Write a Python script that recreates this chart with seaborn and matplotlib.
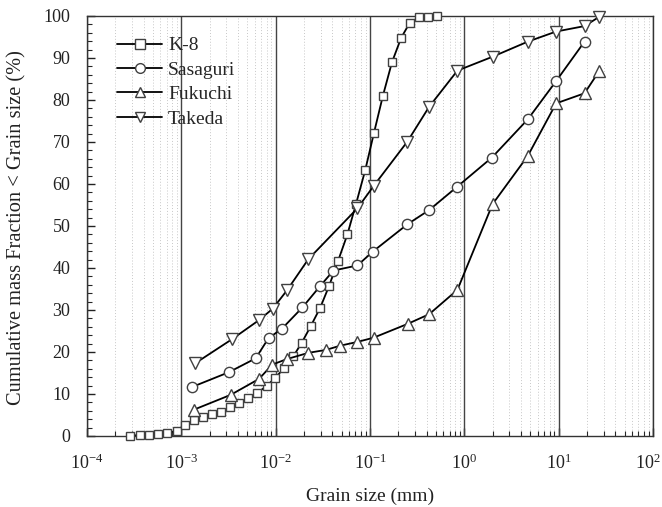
import numpy as np
import pandas as pd
import matplotlib
matplotlib.use("Agg")
import matplotlib.pyplot as plt
import matplotlib.ticker as mticker
import matplotlib.transforms as mtrans
import seaborn as sns

k8_x = [2.86e-4, 3.65e-4, 4.58e-4, 5.7e-4, 7.1e-4, 8.9e-4, 1.09e-3, 1.37e-3, 1.71e-3, 2.1e-3,
        2.64e-3, 3.28e-3, 4.09e-3, 5.14e-3, 6.4e-3, 8.05e-3, 9.9e-3, 1.23e-2, 1.54e-2, 1.89e-2,
        2.36e-2, 2.96e-2, 3.68e-2, 4.59e-2, 5.76e-2, 7.1e-2, 8.9e-2, 0.110, 0.137, 0.171,
        0.214, 0.264, 0.332, 0.416, 0.519]
k8_y = [0.1, 0.2, 0.2, 0.4, 0.6, 1.3, 2.6, 3.8, 4.6, 5.2,
        5.8, 6.8, 7.9, 9.1, 10.3, 11.9, 13.9, 16.1, 19.0, 22.2,
        26.2, 30.5, 35.7, 41.7, 48.0, 55.2, 63.3, 72.1, 81.0, 89.0,
        94.8, 98.4, 99.7, 99.8, 99.9]

sas_x = [1.31e-3, 3.2e-3, 6.15e-3, 8.4e-3, 1.16e-2, 1.92e-2, 2.96e-2, 4.1e-2, 7.35e-2, 0.107,
         0.249, 0.424, 0.845, 1.96, 4.71, 9.4, 18.8]
sas_y = [11.7, 15.2, 18.5, 23.3, 25.5, 30.6, 35.7, 39.4, 40.6, 43.9,
         50.4, 53.8, 59.4, 66.3, 75.4, 84.5, 93.9]

fuk_x = [1.37e-3, 3.34e-3, 6.67e-3, 9.2e-3, 1.31e-2, 2.22e-2, 3.42e-2, 4.82e-2, 7.35e-2, 0.109,
         0.251, 0.424, 0.845, 1.99, 4.71, 9.4, 18.8, 26.9]
fuk_y = [6.3, 9.8, 13.6, 17.0, 18.3, 19.8, 20.5, 21.5, 22.4, 23.4,
         26.7, 29.0, 34.8, 55.2, 66.7, 79.2, 81.6, 86.9]

tak_x = [1.40e-3, 3.42e-3, 6.67e-3, 9.3e-3, 1.32e-2, 2.22e-2, 7.35e-2, 0.109, 0.249, 0.424,
         0.845, 1.99, 4.71, 9.4, 18.8, 26.9]
tak_y = [17.3, 23.0, 27.6, 30.3, 34.7, 42.1, 54.2, 59.5, 70.1, 78.4,
         87.0, 90.3, 93.9, 96.3, 97.6, 99.8]

series_names = ["K-8", "Sasaguri", "Fukuchi", "Takeda"]
x_major_ticks = [1e-4, 1e-3, 1e-2, 1e-1, 1e0, 1e1, 1e2]
y_major_ticks = [0, 10, 20, 30, 40, 50, 60, 70, 80, 90, 100]

frames = []
for name, xs, ys in zip(series_names, [k8_x, sas_x, fuk_x, tak_x], [k8_y, sas_y, fuk_y, tak_y]):
    frames.append(pd.DataFrame({"size": xs, "frac": ys, "sample": name}))
df = pd.concat(frames, ignore_index=True)

sns.set_style("ticks")
plt.rcParams["font.family"] = ["Liberation Serif", "DejaVu Serif"]
plt.rcParams["mathtext.fontset"] = "custom"
plt.rcParams["mathtext.rm"] = "Liberation Serif"
plt.rcParams["mathtext.it"] = "Liberation Serif:italic"

W, H = 662, 507
fig = plt.figure(figsize=(W / 100, H / 100), dpi=100)
AX_L, AX_R, AX_T, AX_B = 87, 653, 16, 436
ax = fig.add_axes([AX_L / W, 1 - AX_B / H, (AX_R - AX_L) / W, (AX_B - AX_T) / H])

# grid
for d in range(-4, 3):
    ax.axvline(10.0 ** d, color="#444444", lw=1.0, zorder=1)
    if d < 2:
        for m in range(2, 10):
            ax.axvline(m * 10.0 ** d, color="#c8c8c8", lw=0.7, ls=(0, (1, 2)), zorder=0)

markers = {"K-8": "s", "Sasaguri": "o", "Fukuchi": "^", "Takeda": "v"}
sizes = {"K-8": 6.2, "Sasaguri": 7.4, "Fukuchi": 8.0, "Takeda": 8.0}
for name in series_names:
    sub = df[df["sample"] == name]
    sns.lineplot(data=sub, x="size", y="frac", ax=ax, color="black", lw=1.3,
                 marker=markers[name], markersize=sizes[name], markerfacecolor="white",
                 markeredgecolor="#404040", markeredgewidth=1.0, label=name,
                 sort=False, estimator=None, zorder=3, clip_on=False)

ax.set_xscale("log")
ax.set_xlim(1e-4, 1e2)
ax.set_ylim(0, 100)
ax.xaxis.set_major_locator(mticker.FixedLocator(x_major_ticks))
ax.xaxis.set_minor_locator(mticker.FixedLocator(
    [m * 10.0 ** d for d in range(-4, 2) for m in range(2, 10)]))
ax.xaxis.set_major_formatter(mticker.LogFormatterMathtext())
ax.xaxis.set_minor_formatter(mticker.NullFormatter())
ax.yaxis.set_major_locator(mticker.FixedLocator(y_major_ticks))
ax.yaxis.set_minor_locator(mticker.MultipleLocator(2))
ax.tick_params(axis="both", which="major", direction="in", length=6, width=1, labelsize=13, colors="#222222")
ax.tick_params(axis="both", which="minor", direction="in", length=3.5, width=0.8)
ax.tick_params(axis="x", which="major", pad=13)
ax.tick_params(axis="y", which="major", pad=12)
for sp in ax.spines.values():
    sp.set_color("#333333")
    sp.set_linewidth(1.0)

ax.set_xlabel("Grain size (mm)", fontsize=14, color="#222222")
ax.set_ylabel("Cumulative mass Fraction < Grain size (%)", fontsize=14, color="#222222")
# x label: top at 488 px; y label: right edge at 26 px, centred at 228 px
ax.xaxis.set_label_coords(0.5, -(488 - AX_B) / (AX_B - AX_T))
ax.yaxis.set_label_coords((26 - AX_L) / (AX_R - AX_L), 1 - (228 - AX_T) / (AX_B - AX_T))

fs_leg = 14
leg_kw = dict(loc="upper left", frameon=False, fontsize=fs_leg, handlelength=2.3,
              handletextpad=0.3, borderaxespad=0.0, borderpad=0.0)
spacing = 0.35
anchor = [0.05, 0.96]
leg = None
for it in range(3):
    leg = ax.legend(labelspacing=spacing, bbox_to_anchor=tuple(anchor), **leg_kw)
    fig.canvas.draw()
    r = fig.canvas.get_renderer()
    ext = [t.get_window_extent(r) for t in leg.get_texts()]
    cy = [H - (e.y0 + e.y1) / 2 for e in ext]
    x0 = ext[0].x0
    span = cy[-1] - cy[0]
    target_span = 119 - 46
    spacing += (target_span - span) / 3 / (fs_leg * 100 / 72)
    anchor[0] += (168 - x0) / (AX_R - AX_L)
    anchor[1] -= (46 - cy[0]) / (AX_B - AX_T)
leg = ax.legend(labelspacing=spacing, bbox_to_anchor=tuple(anchor), **leg_kw)
for h in leg.legend_handles:
    h.set_color("black")
    h.set_markeredgecolor("#404040")
    h.set_markerfacecolor("white")
    h.set_markersize(7)

# fit y-label length to ~355 px
fig.canvas.draw()
r = fig.canvas.get_renderer()
e = ax.yaxis.label.get_window_extent(r)
ax.yaxis.label.set_fontsize(14 * 355 / e.height)

# keep the last tick label inside the figure
fig.canvas.draw()
labels = ax.get_xticklabels()
last = labels[-1]
e = last.get_window_extent(fig.canvas.get_renderer())
if e.x1 > W - 1:
    shift = (e.x1 - (W - 1)) / 100
    last.set_transform(last.get_transform() + mtrans.ScaledTranslation(-shift, 0, fig.dpi_scale_trans))

fig.savefig("out.png", dpi=100)
